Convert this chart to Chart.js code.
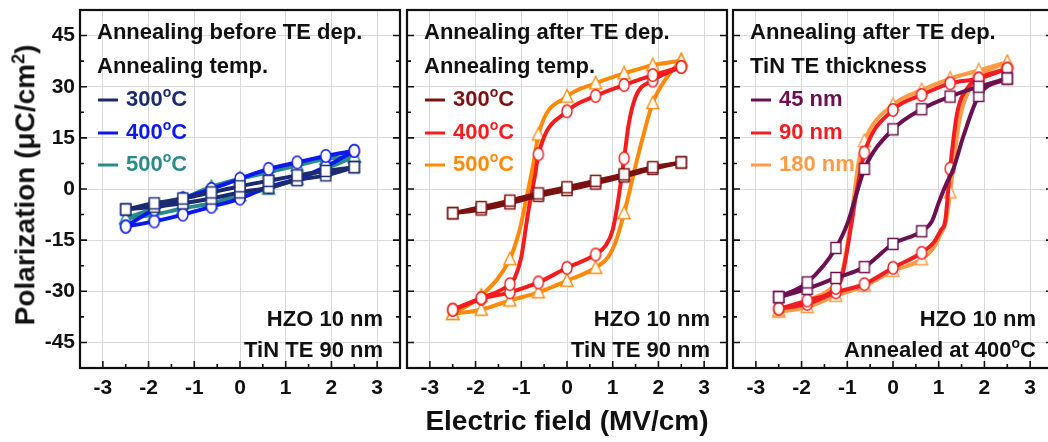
<!DOCTYPE html>
<html><head><meta charset="utf-8">
<script src="https://cdn.jsdelivr.net/npm/chart.js@4/dist/chart.umd.min.js"></script>
<style>
body{margin:0;background:#fff;width:1048px;height:442px;overflow:hidden;position:relative;font-family:"Liberation Sans",Arial,sans-serif;}
.pc{position:absolute;top:0;}
#ytitle{position:absolute;left:25px;top:185px;transform:translate(-50%,-50%) rotate(-90deg);font-weight:bold;font-size:28px;white-space:nowrap;color:#111;}
#ytitle sup{font-size:18px;}
#xtitle{position:absolute;left:567px;top:421px;transform:translate(-50%,-50%);font-weight:bold;font-size:28px;white-space:nowrap;color:#111;}
</style></head>
<body>
<div class="pc" style="left:0px"><canvas id="c0" width="410" height="442"></canvas></div>
<div class="pc" style="left:327px"><canvas id="c1" width="410" height="442"></canvas></div>
<div class="pc" style="left:653px"><canvas id="c2" width="410" height="442"></canvas></div>
<div id="ytitle">Polarization (μC/cm<sup>2</sup>)</div>
<div id="xtitle">Electric field (MV/cm)</div>
<script>
// ---------- axes ----------
const X_TICKS = [-3,-2,-1,0,1,2,3];
const X_MINOR = [-2.5,-1.5,-0.5,0.5,1.5,2.5];
const Y_TICKS = [-45,-30,-15,0,15,30,45];
const Y_MINOR = [-37.5,-22.5,-7.5,7.5,22.5,37.5];
// marker field positions (MV/cm)
const E_MARK = [-2.5,-1.875,-1.25,-0.625,0,0.625,1.25,1.875,2.5];

// ---------- panel 1: annealing before TE dep. ----------
const P1_300_UP = [-6.0,-4.2,-2.8,-1.0,0.8,2.4,4.0,5.3,6.4];
const P1_300_LO = [-6.0,-5.2,-4.2,-2.8,-1.0,0.4,2.6,4.0,6.4];
const P1_400_UP = [-11.0,-6.0,-2.8,0.0,3.0,5.9,7.8,9.7,11.2];
const P1_400_LO = [-11.0,-9.5,-7.5,-5.2,-2.8,0.6,3.0,6.5,11.2];
const P1_500_UP = [-8.6,-5.7,-2.8,0.6,3.0,4.9,6.9,8.8,9.5];
const P1_500_LO = [-8.6,-7.5,-5.7,-4.2,-1.8,0.1,3.0,5.9,9.5];

// ---------- panel 2: annealing after TE dep. ----------
const P2_300_UP = [-7.1,-5.3,-3.4,-1.3,0.5,2.4,4.3,6.4,7.8];
const P2_300_LO = [-7.1,-6.0,-4.2,-2.0,-0.3,1.6,3.7,5.9,7.8];
const P2_400_UP_E = [-2.5,-1.875,-1.25,-1.14,-1.0,-0.88,-0.8,-0.7,-0.625,0,0.625,1.25,1.875,2.5];
const P2_400_UP   = [-35.4,-32.0,-27.9,-26.0,-20.0,-9.5,-3.0,4.0,10.2,22.8,27.3,30.5,33.4,35.8];
const P2_400_LO_E = [-2.5,-1.875,-1.25,-0.625,0,0.625,0.85,1.0,1.1,1.25,1.35,1.5,1.875,2.5];
const P2_400_LO   = [-35.4,-32.2,-30.3,-27.4,-23.1,-19.2,-16.5,-12.0,-5.0,9.0,19.0,27.0,31.8,35.8];
const P2_500_UP_E = [-2.5,-1.875,-1.25,-1.1,-1.0,-0.9,-0.8,-0.7,-0.625,0,0.625,1.25,1.875,2.5];
const P2_500_UP   = [-36.6,-31.3,-20.6,-15.0,-10.0,-3.5,3.0,10.0,16.0,27.1,31.0,33.9,36.3,37.7];
const P2_500_LO_E = [-2.5,-1.875,-1.25,-0.625,0,0.625,0.9,1.05,1.25,1.55,1.875,2.2,2.5];
const P2_500_LO   = [-36.6,-35.4,-32.7,-30.3,-26.9,-23.1,-20.0,-16.0,-7.1,9.5,25.2,33.0,37.7];

// ---------- panel 3: TiN TE thickness ----------
const P3_45_UP_E  = [-2.5,-1.875,-1.25,-0.98,-0.8,-0.625,0,0.625,1.25,1.875,2.5];
const P3_45_UP    = [-31.7,-27.4,-17.3,-9.5,-1.5,5.9,17.5,23.4,27.1,30.0,32.4];
const P3_45_LO_E  = [-2.5,-1.875,-1.25,-0.625,0,0.625,0.85,1.0,1.15,1.32,1.54,1.875,2.5];
const P3_45_LO    = [-31.7,-29.3,-26.1,-22.9,-16.1,-12.4,-9.5,-4.0,1.0,5.9,15.5,27.3,32.4];
const P3_90_UP_E  = [-2.5,-1.875,-1.25,-1.12,-0.9,-0.8,-0.7,-0.625,0,0.625,1.25,1.875,2.5];
const P3_90_UP    = [-35.1,-32.7,-29.0,-26.0,-9.5,-1.0,6.0,10.7,23.2,27.6,31.0,32.4,35.3];
const P3_90_LO_E  = [-2.5,-1.875,-1.25,-0.625,0,0.625,0.9,1.05,1.14,1.25,1.4,1.65,1.875,2.5];
const P3_90_LO    = [-35.1,-33.7,-30.3,-27.9,-23.1,-18.7,-15.5,-12.0,-9.5,6.0,22.0,30.0,32.4,35.3];
const P3_180_UP_E = [-2.5,-1.875,-1.25,-1.12,-0.95,-0.85,-0.75,-0.625,0,0.625,1.25,1.875,2.5];
const P3_180_UP   = [-35.6,-32.7,-27.9,-25.0,-12.0,-2.0,8.0,14.1,24.7,29.0,32.4,34.8,37.2];
const P3_180_LO_E = [-2.5,-1.875,-1.25,-0.625,0,0.625,0.9,1.05,1.16,1.25,1.45,1.7,1.875,2.5];
const P3_180_LO   = [-36.0,-34.6,-31.3,-28.4,-24.0,-20.6,-17.0,-13.0,-9.5,-1.0,20.0,30.0,33.0,37.2];

// ---------- texts ----------
const TITLES = [
  ["Annealing before TE dep.","Annealing temp."],
  ["Annealing after TE dep.","Annealing temp."],
  ["Annealing after TE dep.","TiN TE thickness"]
];
const LEGENDS = [
  ["300°C","400°C","500°C"],
  ["300°C","400°C","500°C"],
  ["45 nm","90 nm","180 nm"]
];
const NOTES = [
  ["HZO 10 nm","TiN TE 90 nm"],
  ["HZO 10 nm","TiN TE 90 nm"],
  ["HZO 10 nm","Annealed at 400°C"]
];
const COLORS = [
  ["#1c2a70","#0c18ee","#2b8a8a"],
  ["#7a1212","#f41c1c","#ff8a0a"],
  ["#6c1150","#f01e22","#ff9a45"]
];
const MARKERS = ["square","circle","triangle"];

const FONT = '"Liberation Sans", Arial, sans-serif';
const TXT = 22;

function mkMarker(shape,color){
  const c=document.createElement('canvas');
  const w=16,h=18; c.width=w; c.height=h;
  const g=c.getContext('2d');
  g.fillStyle='#fff'; g.strokeStyle=color; g.lineWidth=1.4;
  g.beginPath();
  if(shape==='circle'){ g.ellipse(w/2,h/2,5,6.3,0,0,Math.PI*2); }
  else if(shape==='square'){ g.rect(w/2-5,h/2-5.5,10,11); }
  else { g.moveTo(w/2,h/2-7); g.lineTo(w/2+6,h/2+5.5); g.lineTo(w/2-6,h/2+5.5); g.closePath(); }
  g.fill(); g.stroke();
  return c;
}

const SERIES = [
  [[E_MARK,P1_300_UP,E_MARK,P1_300_LO],[E_MARK,P1_400_UP,E_MARK,P1_400_LO],[E_MARK,P1_500_UP,E_MARK,P1_500_LO]],
  [[E_MARK,P2_300_UP,E_MARK,P2_300_LO],[P2_400_UP_E,P2_400_UP,P2_400_LO_E,P2_400_LO],[P2_500_UP_E,P2_500_UP,P2_500_LO_E,P2_500_LO]],
  [[P3_45_UP_E,P3_45_UP,P3_45_LO_E,P3_45_LO],[P3_90_UP_E,P3_90_UP,P3_90_LO_E,P3_90_LO],[P3_180_UP_E,P3_180_UP,P3_180_LO_E,P3_180_LO]]
];

function drawDeg(ctx,str,x,y,size,align){
  // draws text with '°' rendered as superscript 'o'
  const parts=str.split('°');
  const main='bold '+size+'px '+FONT, sup='bold '+Math.round(size*0.62)+'px '+FONT;
  let widths=[]; let total=0;
  parts.forEach((p,i)=>{ctx.font=main; const w=ctx.measureText(p).width; widths.push(w); total+=w;
    if(i<parts.length-1){ctx.font=sup; total+=ctx.measureText('o').width;}});
  let cx = align==='right' ? x-total : x;
  ctx.textAlign='left'; ctx.textBaseline='middle';
  parts.forEach((p,i)=>{
    ctx.font=main; ctx.fillText(p,cx,y); cx+=widths[i];
    if(i<parts.length-1){ctx.font=sup; ctx.fillText('o',cx,y-size*0.3); cx+=ctx.measureText('o').width;}
  });
}

function decoPlugin(pi){
  return {
    id:'deco'+pi,
    afterDatasetsDraw(chart){
      const a=chart.chartArea, xs=chart.scales.x, ys=chart.scales.y, ctx=chart.ctx;
      ctx.save();
      ctx.strokeStyle='#111';
      ctx.lineWidth=1.6;
      ctx.beginPath();
      X_TICKS.forEach(v=>{const px=xs.getPixelForValue(v); ctx.moveTo(px,a.bottom); ctx.lineTo(px,a.bottom-7);});
      X_MINOR.forEach(v=>{const px=xs.getPixelForValue(v); ctx.moveTo(px,a.bottom); ctx.lineTo(px,a.bottom-4);});
      Y_TICKS.forEach(v=>{const py=ys.getPixelForValue(v); ctx.moveTo(a.left,py); ctx.lineTo(a.left+7,py); ctx.moveTo(a.right,py); ctx.lineTo(a.right-7,py);});
      Y_MINOR.forEach(v=>{const py=ys.getPixelForValue(v); ctx.moveTo(a.left,py); ctx.lineTo(a.left+4,py); ctx.moveTo(a.right,py); ctx.lineTo(a.right-4,py);});
      ctx.stroke();
      ctx.lineWidth=2.2;
      ctx.strokeRect(a.left,a.top,a.right-a.left,a.bottom-a.top);
      ctx.fillStyle='#111';
      drawDeg(ctx,TITLES[pi][0],a.left+17,a.top+23,TXT,'left');
      drawDeg(ctx,TITLES[pi][1],a.left+17,a.top+57,TXT,'left');
      const ly=[a.top+90,a.top+123,a.top+155];
      LEGENDS[pi].forEach((t,i)=>{
        ctx.strokeStyle=COLORS[pi][i]; ctx.lineWidth=3;
        ctx.beginPath(); ctx.moveTo(a.left+18,ly[i]); ctx.lineTo(a.left+38,ly[i]); ctx.stroke();
        ctx.fillStyle=COLORS[pi][i];
        drawDeg(ctx,t,a.left+46,ly[i],TXT,'left');
      });
      ctx.fillStyle='#111';
      drawDeg(ctx,NOTES[pi][0],a.right-17,a.top+310,TXT,'right');
      drawDeg(ctx,NOTES[pi][1],a.right-17,a.top+341,TXT,'right');
      ctx.restore();
    }
  };
}

function buildDatasets(pi){
  const ds=[];
  SERIES[pi].forEach((s,si)=>{
    const col=COLORS[pi][si];
    const mk=mkMarker(MARKERS[si],col);
    [[s[0],s[1]],[s[2],s[3]]].forEach(([E,P])=>{
      ds.push({
        data:E.map((e,i)=>({x:e,y:P[i]})),
        borderColor:col, backgroundColor:'#fff',
        borderWidth:4, cubicInterpolationMode:'monotone', fill:false,
        pointStyle:mk,
        pointRadius:ctx=>(ctx.raw && E_MARK.includes(ctx.raw.x))?6:0,
        pointHoverRadius:0
      });
    });
  });
  return ds;
}

for(let pi=0;pi<3;pi++){
  new Chart(document.getElementById('c'+pi),{
    type:'line',
    data:{datasets:buildDatasets(pi)},
    options:{
      responsive:false, animation:false, devicePixelRatio:1,
      layout:{padding:{top:5,right:10,left:0,bottom:0}},
      plugins:{legend:{display:false},tooltip:{enabled:false}},
      scales:{
        x:{type:'linear',min:-3.5,max:3.5,
           afterBuildTicks:s=>{s.ticks=X_TICKS.map(v=>({value:v}));},
           afterFit:s=>{s.height=74;s.paddingLeft=0;s.paddingRight=0;},
           grid:{color:'#dadada',lineWidth:1,drawTicks:false},
           border:{display:false},
           ticks:{font:{family:FONT,size:21,weight:'bold'},color:'#111',padding:8,maxRotation:0,autoSkip:false}},
        y:{type:'linear',min:-52.5,max:52.5,
           afterBuildTicks:s=>{s.ticks=Y_TICKS.map(v=>({value:v}));},
           afterFit:s=>{s.width=80;s.paddingTop=0;s.paddingBottom=0;},
           grid:{color:'#dadada',lineWidth:1,drawTicks:false},
           border:{display:false},
           ticks:{display:pi===0,font:{family:FONT,size:21,weight:'bold'},color:'#111',padding:5}}
      }
    },
    plugins:[decoPlugin(pi)]
  });
}
</script>
</body></html>
